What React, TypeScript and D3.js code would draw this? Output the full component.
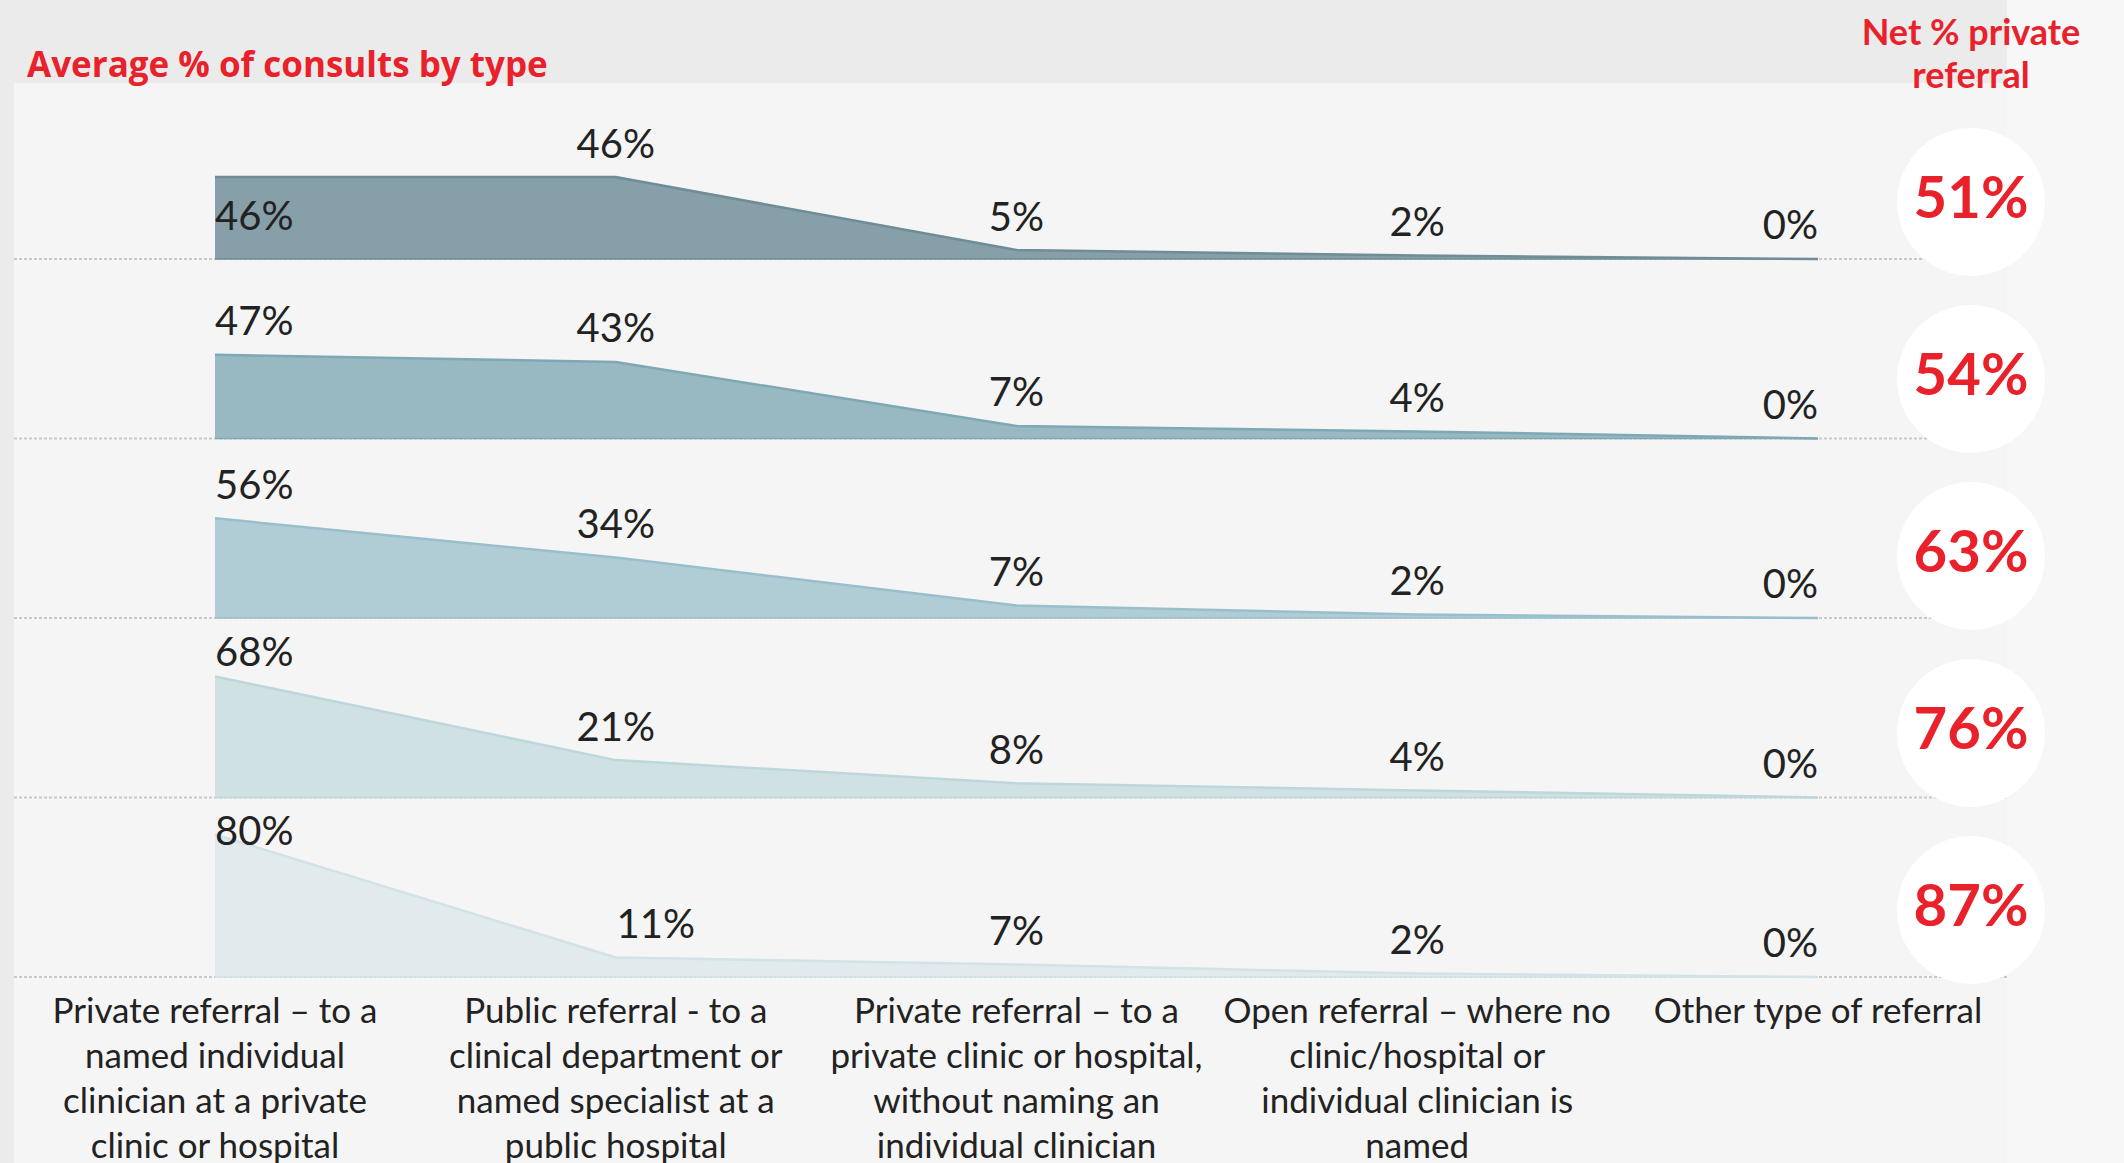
import React from "react";
import * as d3 from "d3";

const categories: string[][] = [
  ["Private referral – to a", "named individual", "clinician at a private", "clinic or hospital"],
  ["Public referral - to a", "clinical department or", "named specialist at a", "public hospital"],
  ["Private referral – to a", "private clinic or hospital,", "without naming an", "individual clinician"],
  ["Open referral – where no", "clinic/hospital or", "individual clinician is", "named"],
  ["Other type of referral"],
];

const row1 = [46, 46, 5, 2, 0];
const row2 = [47, 43, 7, 4, 0];
const row3 = [56, 34, 7, 2, 0];
const row4 = [68, 21, 8, 4, 0];
const row5 = [80, 11, 7, 2, 0];
const rows = [row1, row2, row3, row4, row5];

const netPrivate = [51, 54, 63, 76, 87];

const chartTitle = "Average % of consults by type";
const netTitle = ["Net % private", "referral"];

const fills = ["#879fa8", "#98b8c2", "#b0cdd6", "#cfe1e2", "#e1eaec"];
const strokes = ["#6f8c97", "#7fa8b5", "#98bfcb", "#bdd7dc", "#d2e2e6"];

const W = 2124;
const H = 1163;
const RED = "#e8212b";
const FONT = "Lato, 'Open Sans', sans-serif";

export default function App() {
  const x = d3.scalePoint<number>().domain(d3.range(5)).range([215, 1818]);
  const base = d3.scaleLinear().domain([0, 4]).range([259, 977]);
  const rowH = 179.5;
  const h = d3.scaleLinear().domain([0, 100]).range([0, 178]);
  const circleY = d3.scaleLinear().domain([0, 4]).range([202, 910]);
  const circleX = 1971;
  const labelSize = 40;

  return (
    <div style={{ position: "absolute", left: 0, top: 0 }}>
      <svg width={W} height={H} style={{ display: "block", fontFamily: FONT }}>
        <rect x={0} y={0} width={W} height={H} fill="#f7f7f7" />
        <rect x={0} y={0} width={2007} height={H} fill="#f5f5f5" />
        <rect x={0} y={0} width={2007} height={83} fill="#ebebeb" />
        <rect x={0} y={0} width={14} height={H} fill="#ebebeb" />

        <text x={27} y={77} fill={RED} fontSize={35} fontWeight={700} fontFamily="'Open Sans', sans-serif">
          {chartTitle}
        </text>
        {netTitle.map((t, i) => (
          <text key={t} x={circleX} y={45 + i * 43} fill={RED} fontSize={36} fontWeight={700} textAnchor="middle">
            {t}
          </text>
        ))}

        {rows.map((vals, r) => {
          const b = base(r);
          const area = d3
            .area<number>()
            .x((_, i) => x(i) as number)
            .y0(b)
            .y1((d) => b - h(d));
          const line = d3
            .line<number>()
            .x((_, i) => x(i) as number)
            .y((d) => b - h(d));
          const rowTop = b - rowH;
          return (
            <g key={r}>
              <line x1={14} x2={2007} y1={b} y2={b} stroke="#c9c9c9" strokeWidth={2} strokeDasharray="3,2" />
              <path d={area(vals) || ""} fill={fills[r]} />
              <path d={line(vals) || ""} fill="none" stroke={strokes[r]} strokeWidth={2.5} />
              <line x1={x(0)} x2={x(4)} y1={b} y2={b} stroke={strokes[r]} strokeWidth={1.5} />
              {vals.map((v, i) => {
                const py = b - h(v);
                let cy = Math.max(py - 34, rowTop + 33.5);
                let px = x(i) as number;
                let anchor: "start" | "middle" | "end" = "middle";
                if (i === 0) anchor = "start";
                if (i === vals.length - 1) anchor = "end";
                if (r === 0 && i === 0) cy = py + 38;
                if (r === 4 && i === 1) px += 40;
                return (
                  <text
                    key={i}
                    x={px}
                    y={cy + labelSize * 0.36}
                    fontSize={labelSize}
                    fill="#222"
                    textAnchor={anchor}
                  >
                    {v}%
                  </text>
                );
              })}
            </g>
          );
        })}

        {netPrivate.map((v, i) => (
          <g key={i}>
            <circle cx={circleX} cy={circleY(i)} r={74} fill="#ffffff" />
            <text
              x={circleX}
              y={circleY(i) + 16}
              fill={RED}
              fontSize={58}
              fontWeight={700}
              textAnchor="middle"
            >
              {v}%
            </text>
          </g>
        ))}

        {categories.map((lines, i) => (
          <text key={i} fontSize={35} fill="#222" textAnchor="middle">
            {lines.map((l, j) => (
              <tspan key={j} x={x(i)} y={1023 + j * 45}>
                {l}
              </tspan>
            ))}
          </text>
        ))}
      </svg>
    </div>
  );
}
